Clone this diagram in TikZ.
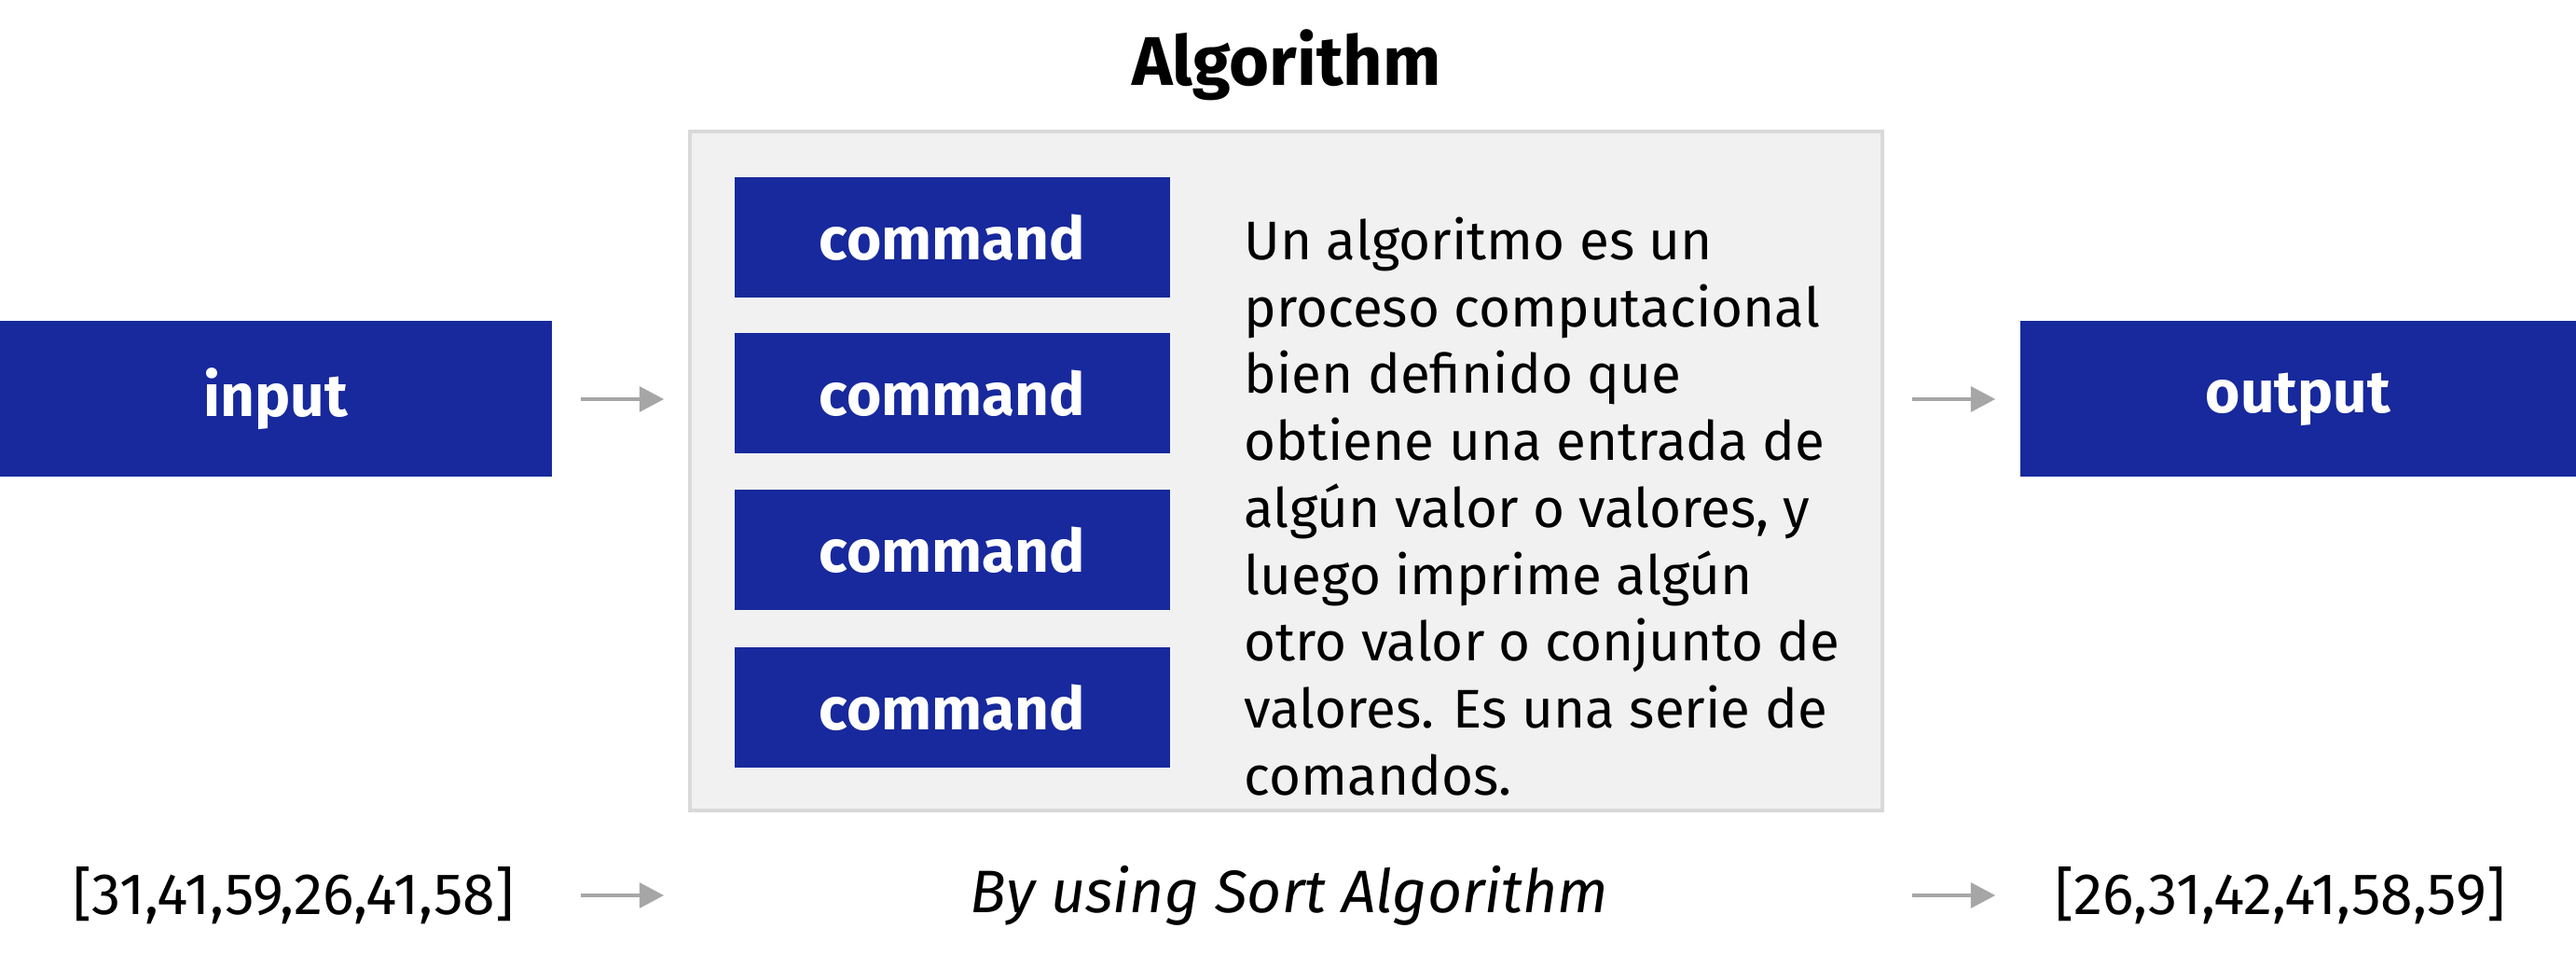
\documentclass[tikz,border=0pt]{standalone}
\usepackage{fontspec}
\setmainfont{Fira Sans}
\usetikzlibrary{positioning,arrows.meta}
\definecolor{algAzul}{HTML}{17299C}
\definecolor{algGris}{HTML}{F1F1F1}
\definecolor{algBorde}{HTML}{D9D9D9}
\definecolor{algFlecha}{HTML}{A6A6A6}
\begin{document}
\begin{tikzpicture}[
      blk/.style={fill=algAzul, text=white, inner sep=0pt,
                  font=\fontsize{18.2}{22}\selectfont\bfseries,
                  minimum height=1.67cm},
      cmd/.style={blk, minimum width=4.67cm, minimum height=1.29cm},
      lst/.style={font=\fontsize{17.8}{20}\selectfont},
      arr/.style={algFlecha, line width=1.4pt,
                  -{Triangle[length=7.5pt,width=7.5pt]},
                  shorten <=0.30cm, shorten >=0.26cm}]
    \useasboundingbox (0,0) rectangle (27.63,10.40);
    \node[blk, minimum width=5.92cm] (inp) at (2.96,6.12) {input};
    \node[blk, minimum width=5.96cm] (out) at (24.65,6.12) {output};
    \node[draw=algBorde, fill=algGris, line width=1pt, inner sep=0pt,
          minimum width=12.79cm, minimum height=7.28cm] (alg) at (13.795,5.35) {};
    \node[font=\fontsize{21}{24}\selectfont\bfseries] (tit) at (13.80,9.70) {Algorithm};
    \foreach \n/\y in {c1/7.855,c2/6.18,c3/4.505,c4/2.815}
      {\node[cmd] (\n) at (10.215,\y) {command};}
    \node[anchor=west, align=left, inner sep=0pt,
          font=\fontsize{16.6}{20.4}\selectfont] (txt) at (13.34,4.97)
      {Un algoritmo es un\\proceso computacional\\bien definido que\\obtiene una entrada de\\alg\'un valor o valores, y\\luego imprime alg\'un\\otro valor o conjunto de\\valores. Es una serie de\\comandos.};
    % bottom line
    \node[lst] (inl) at (3.15,0.80) {[31,41,59,26,41,58]};
    \node[lst, font=\fontsize{18.3}{20}\selectfont\itshape] (srt) at (13.83,0.80) {By using Sort Algorithm};
    \node[lst] (outl) at (24.46,0.80) {[26,31,42,41,58,59]};
    \draw[arr] (inp.east) -- (alg.west |- inp.east);
    \draw[arr] (alg.east |- out.west) -- (out.west);
    \draw[arr] (inp.east |- inl.center) -- (alg.west |- inl.center);
    \draw[arr] (alg.east |- outl.center) -- (out.west |- outl.center);
  \end{tikzpicture}
\end{document}
